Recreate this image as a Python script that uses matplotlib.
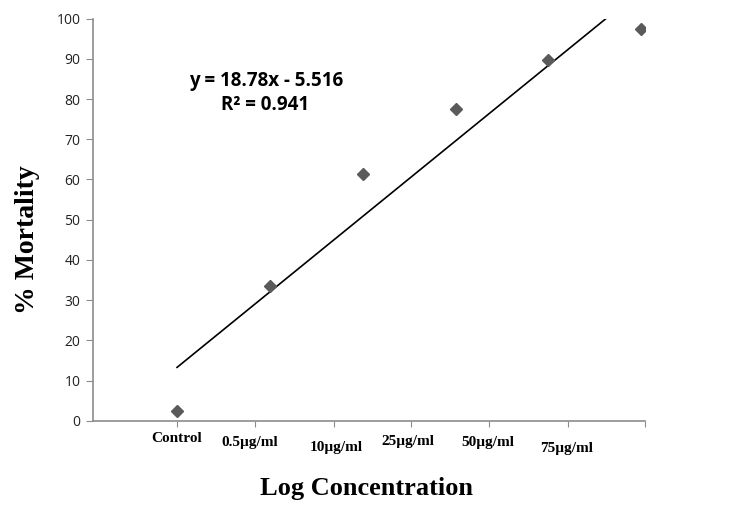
import matplotlib
matplotlib.use('Agg')
import matplotlib.pyplot as plt
import matplotlib.transforms as mtransforms
import numpy as np

# Data
x_vals = [1, 2, 3, 4, 5, 6]
mortality = [2.5, 33.5, 61.3, 77.5, 89.8, 97.4]
categories = ['Control', '0.5µg/ml', '10µg/ml', '25µg/ml', '50µg/ml', '75µg/ml']
slope = 18.78
intercept = -5.516
r_squared = 0.941
y_ticks = list(range(0, 101, 10))

# Layout (where the category labels sit on the axis)
label_x = [1.0, 1.78, 2.72, 3.49, 4.35, 5.20]
label_drop = [12.5, 16, 19, 15.3, 16, 19.7]
tick_x = [1.0, 1.84, 2.69, 3.52, 4.36, 5.21, 6.04]

fig = plt.figure(figsize=(7.4, 5.15), dpi=100)
ax = fig.add_axes([0.1257, 0.1831, 0.7459, 0.7806])

ax.plot(x_vals, mortality, 'D', color='#5a5a5a', markersize=6, zorder=3)

xs = np.array([1, 6])
ax.plot(xs, slope * xs + intercept, color='black', lw=1.2, zorder=2)

ax.set_xlim(0.095, 6.04)
ax.set_ylim(0, 100)

ax.spines['top'].set_visible(False)
ax.spines['right'].set_visible(False)
for s in ['left', 'bottom']:
    ax.spines[s].set_color('#8c8c8c')
    ax.spines[s].set_linewidth(1.2)

ax.set_yticks(y_ticks)
ax.tick_params(axis='y', direction='out', length=5, color='#8c8c8c', labelsize=10, pad=4)
ax.set_xticks(tick_x)
ax.set_xticklabels([])
ax.tick_params(axis='x', direction='out', length=4, color='#8c8c8c')
for lab in ax.get_yticklabels():
    lab.set_family('Open Sans')
    lab.set_color('#222222')

trans = mtransforms.blended_transform_factory(ax.transData, ax.transAxes)
for cx, drop, name in zip(label_x, label_drop, categories):
    ax.annotate(name, xy=(cx, 0), xycoords=trans, xytext=(0, -drop),
                textcoords='offset points', ha='center', va='center',
                family='Liberation Serif', fontweight='bold', fontsize=11)

ax.text(266 / 740, 1 - 81 / 515, 'y = 18.78x - 5.516', transform=fig.transFigure,
        ha='center', va='center', fontsize=13.5, fontweight='bold', family='Open Sans')
ax.text(265 / 740, 1 - 105 / 515, 'R² = %.3f' % r_squared, transform=fig.transFigure,
        ha='center', va='center', fontsize=13.5, fontweight='bold', family='Open Sans')

fig.text(28 / 740, 1 - 240 / 515, '% Mortality', rotation=90, ha='center', va='center',
         family='Liberation Serif', fontweight='bold', fontsize=20)
fig.text(366 / 740, 1 - 489 / 515, 'Log Concentration', ha='center', va='center',
         family='Liberation Serif', fontweight='bold', fontsize=19)

fig.savefig('out.png', dpi=100, facecolor='white')
